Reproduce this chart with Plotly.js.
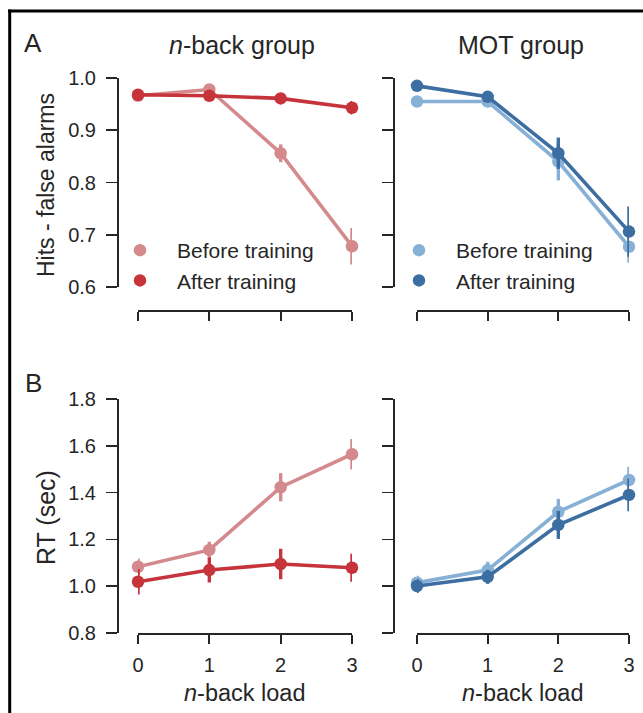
<!DOCTYPE html>
<html>
<head>
<meta charset="utf-8">
<script src="https://cdn.plot.ly/plotly-3.0.1.min.js"></script>
<style>html,body{margin:0;padding:0;background:#fff;}#chart{width:643px;height:713px;}</style>
</head>
<body>
<div id="chart"></div>
<script>
// ---- data ----
const loads = [0, 1, 2, 3];
const loadTicks = ['0', '1', '2', '3'];

const nbackBeforeAcc = [0.966, 0.978, 0.856, 0.678];
const nbackBeforeAccErr = [0.006, 0.006, 0.017, 0.035];
const nbackAfterAcc = [0.968, 0.966, 0.961, 0.943];
const nbackAfterAccErr = [0.006, 0.006, 0.008, 0.013];

const motBeforeAcc = [0.955, 0.955, 0.840, 0.677];
const motBeforeAccErr = [0.010, 0.008, 0.036, 0.030];
const motAfterAcc = [0.985, 0.964, 0.856, 0.706];
const motAfterAccErr = [0.004, 0.006, 0.030, 0.048];

const nbackBeforeRT = [1.083, 1.155, 1.423, 1.564];
const nbackBeforeRTErr = [0.035, 0.035, 0.060, 0.065];
const nbackAfterRT = [1.019, 1.069, 1.095, 1.079];
const nbackAfterRTErr = [0.055, 0.053, 0.065, 0.060];

const motBeforeRT = [1.015, 1.069, 1.318, 1.454];
const motBeforeRTErr = [0.030, 0.035, 0.055, 0.057];
const motAfterRT = [1.001, 1.040, 1.262, 1.390];
const motAfterRTErr = [0.030, 0.030, 0.060, 0.070];

const accTicks = [0.6, 0.7, 0.8, 0.9, 1.0];
const rtTicks = [0.8, 1.0, 1.2, 1.4, 1.6, 1.8];

// ---- styling ----
const W = 643, H = 713;
const px = v => v / W;
const py = v => 1 - v / H;
const RED_L = '#d4898c', RED_D = '#c6333a';
const BLUE_L = '#86b0d6', BLUE_D = '#3d6ea2';
const TXT = '#262626';
const FONT = 'Liberation Sans, Arial, sans-serif';

function series(xa, ya, y, err, color, name, legend, showlegend) {
  return [
    {x: loads, y: y, xaxis: xa, yaxis: ya, type: 'scatter', mode: 'lines',
     line: {color: color, width: 3.6}, showlegend: false, hoverinfo: 'skip'},
    {x: loads, y: y, xaxis: xa, yaxis: ya, type: 'scatter', mode: 'markers',
     marker: {color: color, size: 12.5}, cliponaxis: false,
     error_y: {type: 'data', array: err, visible: true, color: color, thickness: 3.4, width: 0},
     name: name, legend: legend, legendgroup: name + legend, showlegend: showlegend}
  ];
}

const data = [].concat(
  series('x', 'y', nbackBeforeAcc, nbackBeforeAccErr, RED_L, 'Before training', 'legend', true),
  series('x', 'y', nbackAfterAcc, nbackAfterAccErr, RED_D, 'After training', 'legend', true),
  series('x2', 'y2', motBeforeAcc, motBeforeAccErr, BLUE_L, 'Before training', 'legend2', true),
  series('x2', 'y2', motAfterAcc, motAfterAccErr, BLUE_D, 'After training', 'legend2', true),
  series('x3', 'y3', nbackBeforeRT, nbackBeforeRTErr, RED_L, 'Before training', 'legend', false),
  series('x3', 'y3', nbackAfterRT, nbackAfterRTErr, RED_D, 'After training', 'legend', false),
  series('x4', 'y4', motBeforeRT, motBeforeRTErr, BLUE_L, 'Before training', 'legend2', false),
  series('x4', 'y4', motAfterRT, motAfterRTErr, BLUE_D, 'After training', 'legend2', false)
);

const axCommon = {
  showline: true, linecolor: TXT, linewidth: 1.7, ticks: 'outside',
  tickwidth: 1.7, tickcolor: TXT, showgrid: false, zeroline: false, fixedrange: true,
  tickfont: {family: FONT, size: 20, color: TXT}
};
const xBase = Object.assign({}, axCommon, {range: [0, 3], tickvals: loads, ticktext: loadTicks, ticklen: 9, ticklabelstandoff: 4});
const yAccBase = Object.assign({}, axCommon, {range: [0.6, 1.0], tickvals: accTicks, tickformat: '.1f', ticklen: 11, ticklabelstandoff: 6});
const yRtBase = Object.assign({}, axCommon, {range: [0.8, 1.8], tickvals: rtTicks, tickformat: '.1f', ticklen: 11, ticklabelstandoff: 6});

const leftDom = [px(138), px(352)];
const rightDom = [px(417), px(629)];
const topDom = [py(287), py(78)];
const botDom = [py(633), py(399)];

const legendCommon = {
  font: {family: FONT, size: 21, color: TXT}, bgcolor: 'rgba(0,0,0,0)', borderwidth: 0,
  itemwidth: 64, traceorder: 'grouped', tracegroupgap: 0, xanchor: 'left', yanchor: 'top',
  itemclick: false, itemdoubleclick: false
};

const ann = (text, x, y, size, opts) => Object.assign({
  text: text, x: px(x), y: py(y), xref: 'paper', yref: 'paper', showarrow: false,
  xanchor: 'center', yanchor: 'middle', font: {family: FONT, size: size, color: TXT}
}, opts || {});

const layout = {
  width: W, height: H,
  margin: {l: 0, r: 0, t: 0, b: 0},
  paper_bgcolor: '#fff', plot_bgcolor: 'rgba(0,0,0,0)',
  showlegend: true,
  xaxis: Object.assign({}, xBase, {domain: leftDom, anchor: 'free', position: py(310), showticklabels: false}),
  yaxis: Object.assign({}, yAccBase, {domain: topDom, anchor: 'free', position: px(117)}),
  xaxis2: Object.assign({}, xBase, {domain: rightDom, anchor: 'free', position: py(310), showticklabels: false}),
  yaxis2: Object.assign({}, yAccBase, {domain: topDom, anchor: 'free', position: px(393), showticklabels: false}),
  xaxis3: Object.assign({}, xBase, {domain: leftDom, anchor: 'y3'}),
  yaxis3: Object.assign({}, yRtBase, {domain: botDom, anchor: 'free', position: px(117)}),
  xaxis4: Object.assign({}, xBase, {domain: rightDom, anchor: 'y4'}),
  yaxis4: Object.assign({}, yRtBase, {domain: botDom, anchor: 'free', position: px(393), showticklabels: false}),
  legend: Object.assign({}, legendCommon, {x: px(103), y: py(230)}),
  legend2: Object.assign({}, legendCommon, {x: px(382), y: py(230)}),
  annotations: [
    ann('A', 33, 43, 26),
    ann('B', 33, 383, 26),
    ann('<i>n</i>-back group', 242, 45, 25),
    ann('MOT group', 521, 45, 25),
    ann('Hits - false alarms', 46, 185, 23, {textangle: -90}),
    ann('RT (sec)', 46, 518, 25, {textangle: -90}),
    ann('<i>n</i>-back load', 245, 693, 23.5),
    ann('<i>n</i>-back load', 523, 693, 23.5)
  ],
  shapes: [
    {type: 'line', xref: 'paper', yref: 'paper', x0: px(8.2), x1: 1, y0: py(11), y1: py(11), line: {color: '#000', width: 3}},
    {type: 'line', xref: 'paper', yref: 'paper', x0: px(9.7), x1: px(9.7), y0: py(9.5), y1: 0, line: {color: '#000', width: 3}}
  ]
};

Plotly.newPlot('chart', data, layout, {displayModeBar: false, staticPlot: true});
</script>
</body>
</html>
